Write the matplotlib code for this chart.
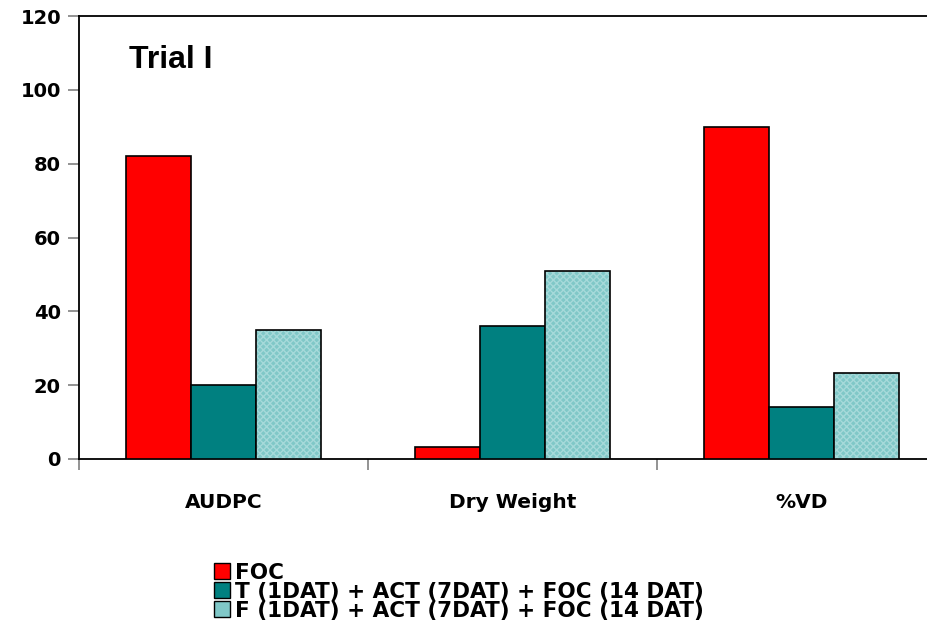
import matplotlib
matplotlib.use("Agg")
import matplotlib.pyplot as plt
import numpy as np
from matplotlib.patches import Patch

categories = ["AUDPC", "Dry Weight", "%VD"]
series_names = ["FOC",
                "T (1DAT) + ACT (7DAT) + FOC (14 DAT)",
                "F (1DAT) + ACT (7DAT) + FOC (14 DAT)"]
foc = [82, 3.2, 90]
t_act_foc = [20, 36, 14]
f_act_foc = [35, 51, 23.3]
y_ticks = [0, 20, 40, 60, 80, 100, 120]

plt.rcParams['font.family'] = ['DejaVu Sans']
plt.rcParams['font.weight'] = 'bold'

fig = plt.figure(figsize=(9.27, 6.31), dpi=100)
# axes extend past the right edge, so the right spine falls outside the image
ax = fig.add_axes([79 / 927, 172 / 631, 867 / 927, 443 / 631])

x = np.arange(len(categories))
w = 0.225
red = "#FF0000"
teal = "#008080"
light = "#80C8C8"

ax.bar(x - w, foc, w, color=red, edgecolor="black", linewidth=1.2, zorder=3)
ax.bar(x, t_act_foc, w, color=teal, edgecolor="black", linewidth=1.2, zorder=3)
# textured fill, then outline on top
ax.bar(x + w, f_act_foc, w, color=light, hatch="xxxxx", edgecolor="#A6DADA",
       linewidth=0, zorder=3)
ax.bar(x + w, f_act_foc, w, fill=False, edgecolor="black", linewidth=1.2, zorder=4)

ax.set_xlim(-0.5, 2.5)
ax.set_ylim(0, 120)
ax.set_yticks(y_ticks)
ax.set_yticklabels([str(v) for v in y_ticks], fontsize=14, fontweight='bold')
ax.tick_params(axis='y', length=8, width=1.2, color='#808080', pad=5)

# category ticks sit at the group boundaries
ax.set_xticks([-0.5, 0.5, 1.5, 2.5])
ax.set_xticklabels([])
ax.tick_params(axis='x', length=8, width=1.2, color='#808080')
for xi, name in zip(x, categories):
    ax.text(xi, -11.8, name, ha='center', va='center', fontsize=14.5,
            fontweight='bold', transform=ax.transData)

for s in ['left', 'bottom', 'top']:
    ax.spines[s].set_linewidth(1.3)
    ax.spines[s].set_color('black')
ax.spines['right'].set_visible(False)

ax.text(0.058, 0.9, "Trial I", transform=ax.transAxes, fontsize=23,
        fontweight='bold', ha='left', va='center', family='Liberation Sans')

handles = [Patch(facecolor=red, edgecolor='black', linewidth=1),
           Patch(facecolor=teal, edgecolor='black', linewidth=1),
           Patch(facecolor=light, edgecolor='black', linewidth=1)]
leg = fig.legend(handles, series_names, loc='upper left',
                 bbox_to_anchor=(203 / 927, 1 - 552 / 631), frameon=False,
                 fontsize=15.5, handlelength=0.75, handleheight=0.75,
                 handletextpad=0.25, labelspacing=-0.05, borderpad=0)
for t in leg.get_texts():
    t.set_fontweight('bold')

fig.savefig("out.png", dpi=100)
